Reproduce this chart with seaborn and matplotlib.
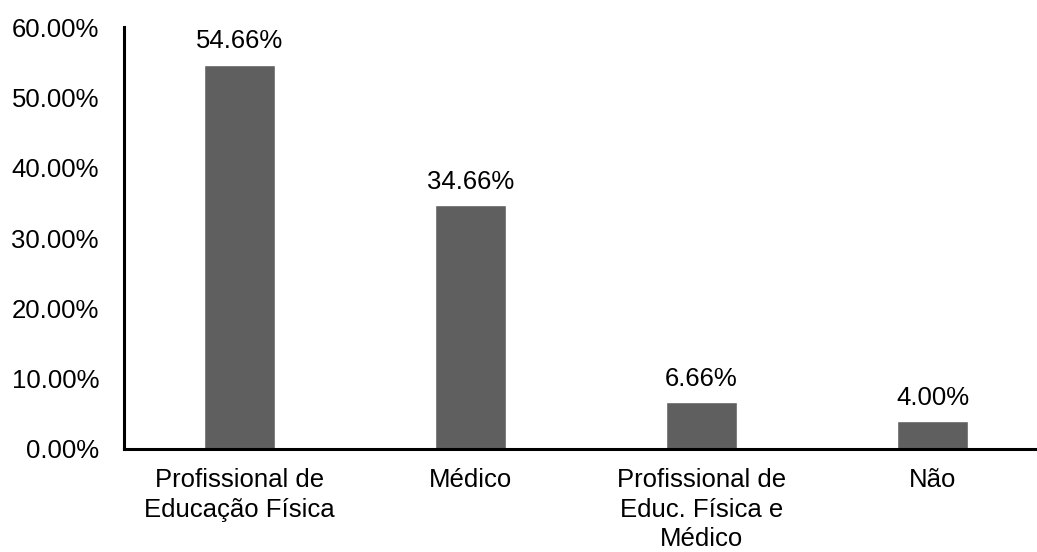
import matplotlib
matplotlib.use("Agg")
import matplotlib.pyplot as plt
from matplotlib.ticker import FuncFormatter
import pandas as pd
import seaborn as sns

categories = ["Profissional de\nEducação Física", "Médico", "Profissional de\nEduc. Física e\nMédico", "Não"]
values = [54.66, 34.66, 6.66, 4.00]
y_ticks = [0, 10, 20, 30, 40, 50, 60]

sns.set_style("white")
plt.rcParams["font.family"] = ["Liberation Sans", "DejaVu Sans"]
plt.rcParams["text.color"] = "black"

df = pd.DataFrame({"categoria": categories, "valor": values})

fig = plt.figure(figsize=(10.37, 5.52), dpi=100)
ax = fig.add_axes([124 / 1037, 103 / 552, 924 / 1037, 422 / 552])

sns.barplot(data=df, x="categoria", y="valor", color="#5f5f5f", width=0.31,
            saturation=1, ax=ax)

# value labels above bars
for cont in ax.containers:
    ax.bar_label(cont, labels=[f"{v:.2f}%" for v in values], padding=8,
                 fontsize=18.5, color="black")

ax.set_ylim(0, 60)
ax.set_xlim(-0.5, 3.5)
ax.set_yticks(y_ticks)
ax.yaxis.set_major_formatter(FuncFormatter(lambda v, p: f"{v:.2f}%"))
ax.set_xlabel("")
ax.set_ylabel("")

for s in ["top", "right"]:
    ax.spines[s].set_visible(False)
for s in ["left", "bottom"]:
    ax.spines[s].set_color("black")
    ax.spines[s].set_linewidth(2.2)

ax.tick_params(axis="both", length=0, labelsize=18.5, colors="black")
ax.tick_params(axis="y", pad=18)
ax.tick_params(axis="x", pad=14)
for lbl in ax.get_xticklabels():
    lbl.set_linespacing(1.28)
    lbl.set_horizontalalignment("center")

fig.savefig("out.png", dpi=100)
